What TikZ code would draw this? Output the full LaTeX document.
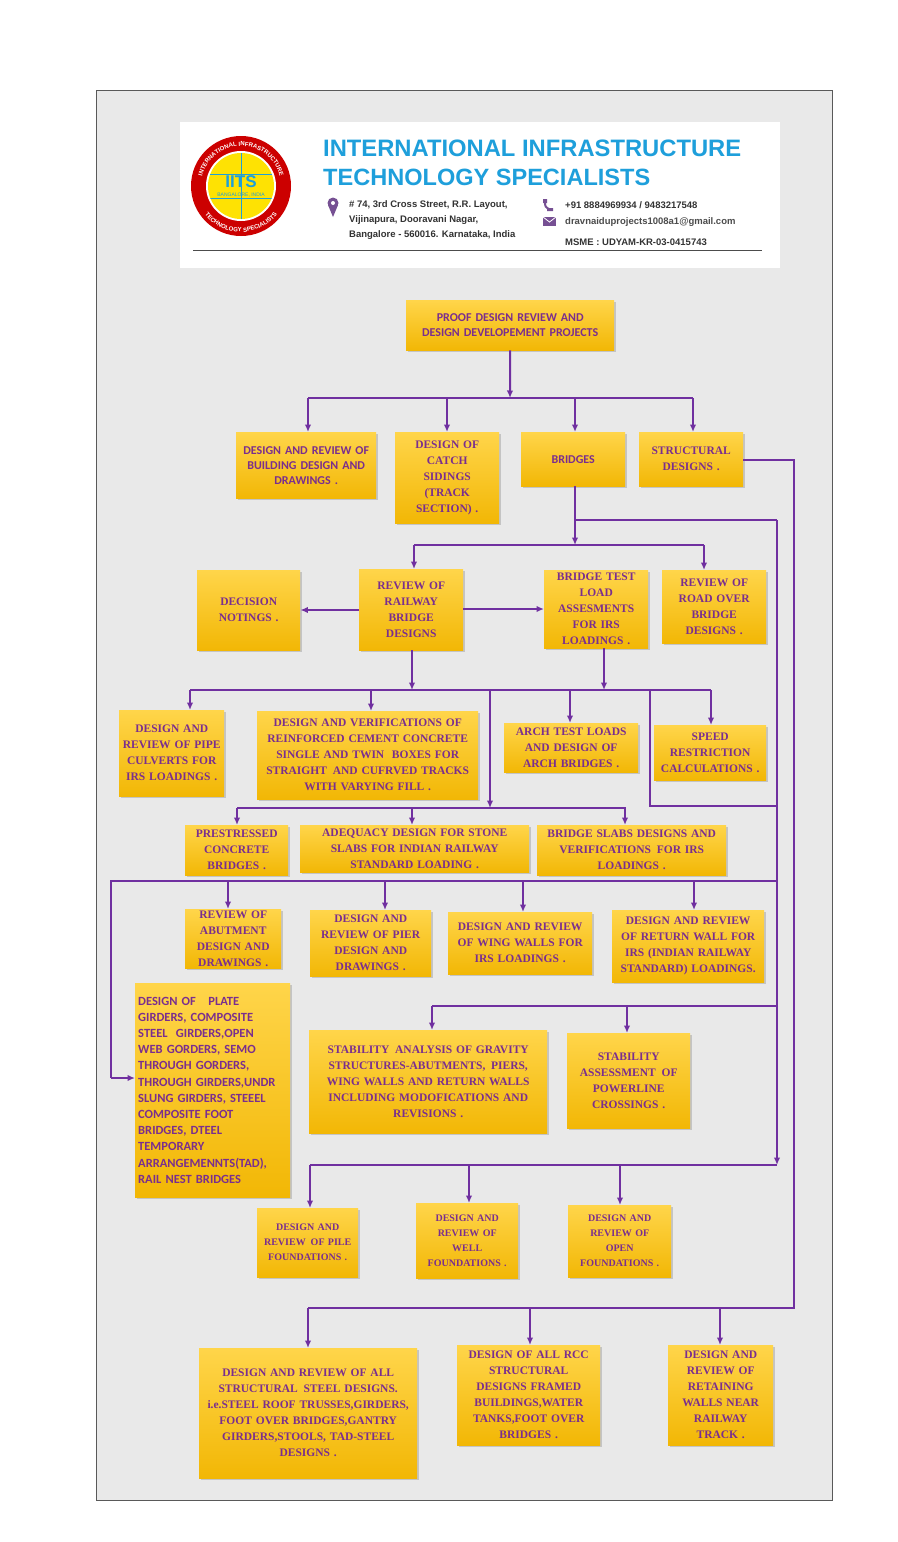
\documentclass[tikz,border=0pt]{standalone}
\usepackage{fontspec}
\setmainfont{Liberation Serif}
\newfontfamily\hsans{Liberation Sans}
\newfontfamily\carl{Carlito}
\usetikzlibrary{arrows.meta,shadows,decorations.text}
\hyphenpenalty=10000
\definecolor{pur}{HTML}{7030A0}
\definecolor{txt}{HTML}{7A2E8E}
\definecolor{ytop}{HTML}{FFD54A}
\definecolor{ybot}{HTML}{F2B705}
\definecolor{bg}{HTML}{E9E9E9}
\definecolor{cyanT}{HTML}{1E9FDB}
\tikzset{
  box/.style={top color=ytop,bottom color=ybot,draw=none,inner sep=0pt,align=center,
    text=txt,drop shadow={shadow xshift=1.5pt,shadow yshift=-1.5pt,opacity=.35},
    font=\fontsize{11.5}{16}\selectfont\bfseries},
  sbox/.style={box,font=\fontsize{12}{15}\selectfont\carl\bfseries},
  fbox/.style={box,font=\fontsize{10}{15}\selectfont\bfseries},
  arr/.style={pur,line width=2pt,-{Latex[length=7.5pt,width=6.5pt]}},
  ln/.style={pur,line width=2pt},
}
\newcommand\bx[6][box]{%
  \pgfmathsetmacro\bw{#5-#3}\pgfmathsetmacro\bh{#6-#4}\pgfmathsetmacro\tw{#5-#3-4}%
  \node[#1,anchor=north west,minimum width=\bw pt,minimum height=\bh pt,text width=\tw pt] (#2) at (#3,#4)}
\begin{document}
\begin{tikzpicture}[x=1pt,y=-1pt]
\useasboundingbox (0,0) rectangle (897,1542);
\fill[white] (0,0) rectangle (897,1542);
\fill[bg] (96,90) rectangle (832,1500);
\draw[gray!70!black,line width=1pt] (96,90) rectangle (832,1500);
% header
\fill[white] (180,122) rectangle (780,268);
\begin{scope}[shift={(241,186)},x=1pt,y=1pt]
  \fill[red!80!black] (0,0) circle (50);
  \fill[white] (0,0) circle (35);
  \fill[yellow!85!orange] (0,0) circle (33);
  \clip (0,0) circle (33);
  \draw[cyanT,line width=1pt] (-40,-12) -- (40,-12) (-40,12) -- (40,12) (0,-40) -- (0,40);
\end{scope}
\node[cyanT,font=\hsans\bfseries\fontsize{17}{17}\selectfont] (iits) at (241,182) {IITS};
\node[cyanT,font=\hsans\fontsize{5}{5}\selectfont] (blr) at (241,195) {BANGALORE, INDIA};
\begin{scope}[shift={(241,186)},x=1pt,y=1pt]
 \path[decorate,decoration={text along path,text align=center,text color=white,
   text={|\hsans\bfseries\fontsize{6}{6}\selectfont|INTERNATIONAL INFRASTRUCTURE}}]
   (185:40) arc[start angle=185,end angle=-5,radius=40];
 \path[decorate,decoration={text along path,text align=center,text color=white,
   text={|\hsans\bfseries\fontsize{6}{6}\selectfont|TECHNOLOGY SPECIALISTS}}]
   (205:46) arc[start angle=205,end angle=335,radius=46];
\end{scope}
\node[anchor=west,cyanT,inner sep=0] (t1) at (323,148) {\resizebox{418pt}{!}{\hsans\bfseries INTERNATIONAL INFRASTRUCTURE}};
\node[anchor=west,cyanT,inner sep=0] (t2) at (323,177) {\resizebox{327pt}{!}{\hsans\bfseries TECHNOLOGY SPECIALISTS}};
\fill[pur!60!gray] (333,203) circle (5.5);
\fill[pur!60!gray] (328,205) -- (333,217) -- (338,205) -- cycle;
\fill[white] (333,203) circle (2);
\node[anchor=west,align=left,inner sep=0,font=\hsans\bfseries\fontsize{9.5}{15}\selectfont,black!80] (addr) at (349,220)
  {\# 74, 3rd Cross Street, R.R. Layout,\\Vijinapura, Dooravani Nagar,\\Bangalore - 560016. Karnataka, India};
\fill[pur!60!gray] (543,199) rectangle (547,203) (547,208) rectangle (553,211);
\draw[pur!60!gray,line width=2pt] (545,201) .. controls (545,207) .. (551,210);
\fill[pur!60!gray] (543,217) rectangle (556,226);
\draw[white,line width=.8pt] (543,217) -- (549.5,222) -- (556,217);
\node[anchor=west,inner sep=0,font=\hsans\bfseries\fontsize{9.5}{9.5}\selectfont,black!80] (phone) at (565,205) {+91 8884969934 / 9483217548};
\node[anchor=west,inner sep=0,font=\hsans\bfseries\fontsize{9.5}{9.5}\selectfont,black!70] (mail) at (565,222) {dravnaiduprojects1008a1@gmail.com};
\node[anchor=west,inner sep=0,font=\hsans\bfseries\fontsize{9.5}{9.5}\selectfont,black!80] (msme) at (565,242) {MSME : UDYAM-KR-03-0415743};
\draw[black!70,line width=1pt] (193,250) -- (762,250);
% boxes
\bx[sbox]{top}{406}{300}{614}{350}{PROOF DESIGN REVIEW AND\\DESIGN DEVELOPEMENT PROJECTS};
\bx[sbox]{b1}{236}{432}{376}{498}{DESIGN AND REVIEW OF\\BUILDING DESIGN AND\\DRAWINGS .\\[4pt]};
\bx{b2}{395}{432}{499}{523}{DESIGN OF\\CATCH\\SIDINGS\\(TRACK\\SECTION) .};
\bx[sbox]{b3}{521}{432}{625}{486}{BRIDGES\\[4pt]};
\bx{b4}{639}{432}{743}{486}{STRUCTURAL\\DESIGNS .};
\bx{dec}{197}{570}{300}{650}{DECISION\\NOTINGS .};
\bx{rail}{359}{569}{463}{650}{REVIEW OF\\RAILWAY\\BRIDGE\\DESIGNS};
\bx{test}{544}{570}{648}{648}{BRIDGE TEST\\LOAD\\ASSESMENTS\\FOR IRS\\LOADINGS .};
\bx{road}{662}{570}{766}{643}{REVIEW OF\\ROAD OVER\\BRIDGE\\DESIGNS .};
\bx{pipe}{119}{710}{224}{796}{DESIGN AND\\REVIEW OF PIPE\\CULVERTS FOR\\IRS LOADINGS .\\[10pt]};
\bx{rcc}{257}{711}{478}{799}{DESIGN AND VERIFICATIONS OF\\REINFORCED CEMENT CONCRETE\\SINGLE AND TWIN \ BOXES FOR\\STRAIGHT \,AND CUFRVED TRACKS\\WITH VARYING FILL .};
\bx{arch}{504}{723}{638}{772}{ARCH TEST LOADS\\AND DESIGN OF\\ARCH BRIDGES .};
\bx{speed}{654}{725}{766}{780}{SPEED\\RESTRICTION\\CALCULATIONS .};
\bx{pre}{185}{825}{288}{875}{PRESTRESSED\\CONCRETE\\BRIDGES .};
\bx{adeq}{300}{825}{529}{872}{ADEQUACY DESIGN FOR STONE\\SLABS FOR INDIAN RAILWAY\\STANDARD LOADING .};
\bx{slab}{537}{825}{726}{875}{BRIDGE SLABS DESIGNS AND\\VERIFICATIONS \,FOR IRS\\LOADINGS .};
\bx{abut}{185}{909}{281}{968}{REVIEW OF\\ABUTMENT\\DESIGN AND\\DRAWINGS .};
\bx{pier}{310}{910}{431}{976}{DESIGN AND\\REVIEW OF PIER\\DESIGN AND\\DRAWINGS .};
\bx{wing}{448}{912}{592}{974}{DESIGN AND REVIEW\\OF WING WALLS FOR\\IRS LOADINGS .\\[4pt]};
\bx{ret}{612}{910}{764}{982}{DESIGN AND REVIEW\\OF RETURN WALL FOR\\IRS (INDIAN RAILWAY\\STANDARD) LOADINGS.};
\node[box,font=\fontsize{12.5}{16.2}\selectfont\carl\bfseries,align=left,anchor=north west,minimum width=155pt,minimum height=214pt,text width=149pt,inner xsep=3pt,inner ysep=1pt] (plate) at (135,983)
 {DESIGN OF \ \ PLATE\\GIRDERS, COMPOSITE\\STEEL \ GIRDERS,OPEN\\WEB GORDERS, SEMO\\THROUGH GORDERS,\\THROUGH GIRDERS,UNDR\\SLUNG GIRDERS, STEEEL\\COMPOSITE FOOT\\BRIDGES, DTEEL\\TEMPORARY\\ARRANGEMENNTS(TAD),\\RAIL NEST BRIDGES\\[14pt]};
\bx{stab}{309}{1030}{547}{1133}{STABILITY \,ANALYSIS OF GRAVITY\\STRUCTURES-ABUTMENTS, \,PIERS,\\WING WALLS AND RETURN WALLS\\INCLUDING MODOFICATIONS AND\\REVISIONS .\\[24pt]};
\bx{pow}{567}{1033}{690}{1128}{STABILITY\\ASSESSMENT \,OF\\POWERLINE\\CROSSINGS .};
\bx[fbox]{pile}{257}{1208}{358}{1277}{DESIGN AND\\REVIEW \,OF PILE\\FOUNDATIONS .};
\bx[fbox]{well}{416}{1203}{518}{1278}{DESIGN AND\\REVIEW OF\\WELL\\FOUNDATIONS .};
\bx[fbox]{open}{568}{1205}{671}{1277}{DESIGN AND\\REVIEW OF\\OPEN\\FOUNDATIONS .};
\bx{steel}{199}{1348}{417}{1478}{DESIGN AND REVIEW OF ALL\\STRUCTURAL \,STEEL DESIGNS.\\i.e.STEEL ROOF TRUSSES,GIRDERS,\\FOOT OVER BRIDGES,GANTRY\\GIRDERS,STOOLS, TAD-STEEL\\DESIGNS .\\[4pt]};
\bx{rccs}{457}{1345}{600}{1445}{DESIGN OF ALL RCC\\STRUCTURAL\\DESIGNS FRAMED\\BUILDINGS,WATER\\TANKS,FOOT OVER\\BRIDGES .};
\bx{retw}{668}{1345}{773}{1445}{DESIGN AND\\REVIEW OF\\RETAINING\\WALLS NEAR\\RAILWAY\\TRACK .};
% connectors
\coordinate (h1) at (510,398);
\draw[arr] (top.south) -- (h1);
\draw[ln] (308,398) -- (693,398);
\draw[arr] (308,398) -- (b1.north -| 308,0);
\draw[arr] (447,398) -- (b2.north -| 447,0);
\draw[arr] (575,398) -- (b3.north -| 575,0);
\draw[arr] (693,398) -- (b4.north -| 693,0);
% structural
\coordinate (s1) at (794,1308);
\draw[ln] (b4.east |- 0,460) -- (794,460) -- (s1) -- (308,1308);
\draw[arr] (308,1308) -- (steel.north -| 308,0);
\draw[arr] (530,1308) -- (rccs.north -| 530,0);
\draw[arr] (720,1308) -- (retw.north -| 720,0);
% bridges
\coordinate (h2) at (575,545);
\draw[arr] (b3.south -| 575,0) -- (h2);
\draw[ln] (575,520) -- (777,520);
\draw[arr] (777,520) -- (777,1165);
\draw[ln] (414,545) -- (704,545);
\draw[arr] (414,545) -- (rail.north -| 414,0);
\draw[arr] (704,545) -- (road.north -| 704,0);
\draw[arr] (rail.west |- 0,610) -- (dec.east |- 0,610);
\draw[arr] (rail.east |- 0,609) -- (test.west |- 0,609);
% row3
\coordinate (h3) at (412,690);
\draw[arr] (rail.south -| 412,0) -- (h3);
\draw[arr] (test.south -| 604,0) -- (604,690);
\draw[ln] (190,690) -- (711,690);
\draw[arr] (190,690) -- (pipe.north -| 190,0);
\draw[arr] (371,690) -- (rcc.north -| 371,0);
\draw[arr] (570,690) -- (arch.north -| 570,0);
\draw[arr] (711,690) -- (speed.north -| 711,0);
\draw[arr] (490,690) -- (490,808);
\draw[ln] (650,690) -- (650,806) -- (778,806);
\draw[ln] (237,808) -- (626,808);
\draw[arr] (237,808) -- (pre.north -| 237,0);
\draw[arr] (412,808) -- (adeq.north -| 412,0);
\draw[arr] (625,808) -- (slab.north -| 625,0);
% row5
\draw[ln] (777,881) -- (111,881) -- (111,1078);
\draw[arr] (111,1078) -- (plate.west |- 0,1078);
\draw[arr] (228,881) -- (abut.north -| 228,0);
\draw[arr] (385,881) -- (pier.north -| 385,0);
\draw[arr] (523,881) -- (wing.north -| 523,0);
\draw[arr] (694,881) -- (ret.north -| 694,0);
\draw[ln] (778,1006) -- (432,1006);
\draw[arr] (432,1006) -- (stab.north -| 432,0);
\draw[arr] (627,1006) -- (pow.north -| 627,0);
\draw[ln] (777,1165) -- (310,1165);
\draw[arr] (310,1165) -- (pile.north -| 310,0);
\draw[arr] (469,1165) -- (well.north -| 469,0);
\draw[arr] (620,1165) -- (open.north -| 620,0);
\end{tikzpicture}
\end{document}
